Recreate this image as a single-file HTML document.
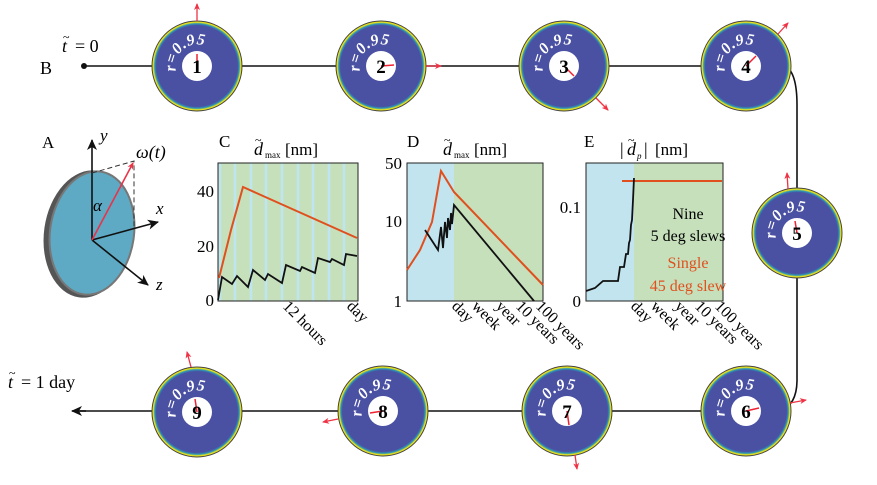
<!DOCTYPE html>
<html><head><meta charset="utf-8"><style>
body{margin:0;background:#fff}
svg{display:block;font-family:"Liberation Serif",serif}
</style></head><body>
<svg width="877" height="485" viewBox="0 0 877 485" xmlns="http://www.w3.org/2000/svg">
<defs>
<radialGradient id="dg" cx="0.5" cy="0.5" r="0.5">
<stop offset="0" stop-color="#4a50a2"/><stop offset="0.9" stop-color="#4a50a2"/>
<stop offset="0.94" stop-color="#2a9ab8"/><stop offset="0.97" stop-color="#e8e020"/><stop offset="1" stop-color="#f2e600"/>
</radialGradient>
<marker id="ra" markerWidth="8" markerHeight="8" refX="6" refY="4" orient="auto" markerUnits="userSpaceOnUse"><path d="M0,1 L7,4 L0,7 L2,4z" fill="#ee3344"/></marker>
<marker id="ka" markerWidth="12" markerHeight="12" refX="10" refY="6" orient="auto" markerUnits="userSpaceOnUse"><path d="M0,1 L11,6 L0,11 L3,6z" fill="#111"/></marker>
<path id="arc" d="M-21,5 A21.5,21.5 0 0 1 21,-5"/>
</defs>
<path d="M84,66 H785 Q797,72 797,105 V380 Q797,405 780,411 H80" fill="none" stroke="#111" stroke-width="1.6"/>
<path d="M86,411 H72" stroke="#111" stroke-width="1.6" marker-end="url(#ka)"/>
<circle cx="84" cy="66" r="3" fill="#111"/>
<text x="40" y="74" font-size="18">B</text>
<text x="62" y="52" font-size="18" font-style="italic">t</text><text x="63" y="41" font-size="12">~</text><text x="75" y="52" font-size="18">= 0</text>
<text x="8" y="388" font-size="18" font-style="italic">t</text><text x="9" y="377" font-size="12">~</text><text x="21" y="388" font-size="18">= 1 day</text>

<g font-weight="bold">
<g transform="translate(197,66)"><circle r="45" fill="url(#dg)" stroke="#444" stroke-width="1"/><circle r="15" fill="#fff"/><line x1="0" y1="0" x2="0" y2="-12" stroke="#e23" stroke-width="1.5"/><text y="7" text-anchor="middle" font-size="19">1</text><text font-size="16" fill="#fff" font-style="italic" letter-spacing="0.5"><textPath href="#arc">r=0.95</textPath></text><line x1="0" y1="-45" x2="0" y2="-62" stroke="#e34" stroke-width="1.3" marker-end="url(#ra)"/></g>
<g transform="translate(381,66)"><circle r="45" fill="url(#dg)" stroke="#444" stroke-width="1"/><circle r="15" fill="#fff"/><line x1="0" y1="0" x2="13" y2="-1" stroke="#e23" stroke-width="1.5"/><text y="7" text-anchor="middle" font-size="19">2</text><text font-size="16" fill="#fff" font-style="italic" letter-spacing="0.5"><textPath href="#arc">r=0.95</textPath></text><line x1="45" y1="0" x2="60" y2="0" stroke="#e34" stroke-width="1.3" marker-end="url(#ra)"/></g>
<g transform="translate(564,66)"><circle r="45" fill="url(#dg)" stroke="#444" stroke-width="1"/><circle r="15" fill="#fff"/><line x1="0" y1="0" x2="10" y2="10" stroke="#e23" stroke-width="1.5"/><text y="7" text-anchor="middle" font-size="19">3</text><text font-size="16" fill="#fff" font-style="italic" letter-spacing="0.5"><textPath href="#arc">r=0.95</textPath></text><line x1="32" y1="32" x2="44" y2="44" stroke="#e34" stroke-width="1.3" marker-end="url(#ra)"/></g>
<g transform="translate(746,66)"><circle r="45" fill="url(#dg)" stroke="#444" stroke-width="1"/><circle r="15" fill="#fff"/><line x1="0" y1="0" x2="10" y2="-10" stroke="#e23" stroke-width="1.5"/><text y="7" text-anchor="middle" font-size="19">4</text><text font-size="16" fill="#fff" font-style="italic" letter-spacing="0.5"><textPath href="#arc">r=0.95</textPath></text><line x1="32" y1="-32" x2="42" y2="-43" stroke="#e34" stroke-width="1.3" marker-end="url(#ra)"/></g>
<g transform="translate(797,233)"><circle r="45" fill="url(#dg)" stroke="#444" stroke-width="1"/><circle r="15" fill="#fff"/><line x1="0" y1="0" x2="-2" y2="-12" stroke="#e23" stroke-width="1.5"/><text y="7" text-anchor="middle" font-size="19">5</text><text font-size="16" fill="#fff" font-style="italic" letter-spacing="0.5"><textPath href="#arc">r=0.95</textPath></text><line x1="-9" y1="-44" x2="-10" y2="-60" stroke="#e34" stroke-width="1.3" marker-end="url(#ra)"/></g>
<g transform="translate(746,411)"><circle r="45" fill="url(#dg)" stroke="#444" stroke-width="1"/><circle r="15" fill="#fff"/><line x1="0" y1="0" x2="13" y2="-3" stroke="#e23" stroke-width="1.5"/><text y="7" text-anchor="middle" font-size="19">6</text><text font-size="16" fill="#fff" font-style="italic" letter-spacing="0.5"><textPath href="#arc">r=0.95</textPath></text><line x1="44" y1="-8" x2="60" y2="-11" stroke="#e34" stroke-width="1.3" marker-end="url(#ra)"/></g>
<g transform="translate(567,411)"><circle r="45" fill="url(#dg)" stroke="#444" stroke-width="1"/><circle r="15" fill="#fff"/><line x1="0" y1="0" x2="2" y2="14" stroke="#e23" stroke-width="1.5"/><text y="7" text-anchor="middle" font-size="19">7</text><text font-size="16" fill="#fff" font-style="italic" letter-spacing="0.5"><textPath href="#arc">r=0.95</textPath></text><line x1="8" y1="44" x2="10" y2="58" stroke="#e34" stroke-width="1.3" marker-end="url(#ra)"/></g>
<g transform="translate(383,411)"><circle r="45" fill="url(#dg)" stroke="#444" stroke-width="1"/><circle r="15" fill="#fff"/><line x1="0" y1="0" x2="-13" y2="2" stroke="#e23" stroke-width="1.5"/><text y="7" text-anchor="middle" font-size="19">8</text><text font-size="16" fill="#fff" font-style="italic" letter-spacing="0.5"><textPath href="#arc">r=0.95</textPath></text><line x1="-45" y1="8" x2="-60" y2="11" stroke="#e34" stroke-width="1.3" marker-end="url(#ra)"/></g>
<g transform="translate(197,412)"><circle r="45" fill="url(#dg)" stroke="#444" stroke-width="1"/><circle r="15" fill="#fff"/><line x1="0" y1="0" x2="-2" y2="-13" stroke="#e23" stroke-width="1.5"/><text y="7" text-anchor="middle" font-size="19">9</text><text font-size="16" fill="#fff" font-style="italic" letter-spacing="0.5"><textPath href="#arc">r=0.95</textPath></text><line x1="-6" y1="-45" x2="-10" y2="-60" stroke="#e34" stroke-width="1.3" marker-end="url(#ra)"/></g>
</g>

<text x="42" y="148" font-size="17">A</text>
<ellipse cx="88" cy="234" rx="44" ry="64" fill="#555" transform="rotate(8 88 234)"/>
<ellipse cx="92" cy="233" rx="42" ry="62" fill="#5ea9c4" stroke="#777" stroke-width="2" transform="rotate(8 92 233)"/>
<path d="M92,240 V140" stroke="#111" stroke-width="1.6" marker-end="url(#ka)"/>
<path d="M92,240 L158,222" stroke="#111" stroke-width="1.6" marker-end="url(#ka)"/>
<path d="M92,240 L148,285" stroke="#111" stroke-width="1.6" marker-end="url(#ka)"/>
<path d="M92,173 L134,161 V226" fill="none" stroke="#333" stroke-dasharray="5,3"/>
<path d="M92,240 L133,163" stroke="#e8334a" stroke-width="1.6" marker-end="url(#ra)"/>
<text x="100" y="141" font-size="17" font-style="italic">y</text>
<text x="136" y="158" font-size="18" font-style="italic">ω(t)</text>
<text x="93" y="211" font-size="17" font-style="italic">α</text>
<text x="156" y="214" font-size="17" font-style="italic">x</text>
<text x="156" y="290" font-size="17" font-style="italic">z</text>

<text x="219" y="147" font-size="17">C</text>
<text x="254" y="155" font-size="18" font-style="italic">d</text><text x="255" y="144" font-size="12">~</text><text x="265" y="158" font-size="9">max</text><text x="285" y="155" font-size="17">[nm]</text>
<rect x="218" y="163" width="140" height="138" fill="#c6e0bc"/>
<g stroke="#bfe6f0" stroke-width="2.5">
<line x1="220" y1="163" x2="220" y2="301"/><line x1="235" y1="163" x2="235" y2="301"/><line x1="251" y1="163" x2="251" y2="301"/><line x1="266" y1="163" x2="266" y2="301"/><line x1="282" y1="163" x2="282" y2="301"/><line x1="298" y1="163" x2="298" y2="301"/><line x1="313" y1="163" x2="313" y2="301"/><line x1="329" y1="163" x2="329" y2="301"/><line x1="344" y1="163" x2="344" y2="301"/>
</g>
<rect x="218" y="163" width="140" height="138" fill="none" stroke="#222" stroke-width="1"/>
<polyline points="219,278 231,230 243,187 357,238" fill="none" stroke="#e0501e" stroke-width="2"/>
<polyline points="218,300 222,277 232,284 237,276 248,287 253,270 265,280 268,274 282,283 286,265 300,271 302,267 315,273 318,258 330,262 332,259 344,265 346,254 357,256" fill="none" stroke="#111" stroke-width="1.8"/>
<g font-size="17" text-anchor="end"><text x="214" y="197">40</text><text x="214" y="252">20</text><text x="214" y="306">0</text></g>
<text font-size="16" transform="translate(282,307) rotate(45)">12 hours</text>
<text font-size="16" transform="translate(346,307) rotate(45)">day</text>

<text x="407" y="147" font-size="17">D</text>
<text x="443" y="155" font-size="18" font-style="italic">d</text><text x="444" y="144" font-size="12">~</text><text x="454" y="158" font-size="9">max</text><text x="474" y="155" font-size="17">[nm]</text>
<rect x="407" y="163" width="47" height="138" fill="#c2e4ef"/>
<rect x="454" y="163" width="89" height="138" fill="#c6e0bc"/>
<rect x="407" y="163" width="136" height="138" fill="none" stroke="#222" stroke-width="1"/>
<polyline points="407,270 420,250 432,222 441,171 454,192 543,285" fill="none" stroke="#e0501e" stroke-width="2"/>
<polyline points="425,230 438,250 441,227 443,248 445,222 447,238 448,218 450,230 451,213 452,224 454,205 534,301" fill="none" stroke="#111" stroke-width="1.8"/>
<g font-size="17" text-anchor="end"><text x="402" y="169">50</text><text x="402" y="227">10</text><text x="402" y="307">1</text></g>
<g font-size="16"><text transform="translate(451,307) rotate(45)">day</text><text transform="translate(471,307) rotate(45)">week</text><text transform="translate(495,307) rotate(45)">year</text><text transform="translate(515,307) rotate(45)">10 years</text><text transform="translate(535,307) rotate(45)">100 years</text></g>

<text x="584" y="147" font-size="17">E</text>
<text x="620" y="155" font-size="18">|</text><text x="627" y="155" font-size="18" font-style="italic">d</text><text x="628" y="144" font-size="12">~</text><text x="637" y="159" font-size="9" font-style="italic">p</text><text x="644" y="155" font-size="18">|</text><text x="655" y="155" font-size="17">[nm]</text>
<rect x="586" y="163" width="48" height="138" fill="#c2e4ef"/>
<rect x="634" y="163" width="89" height="138" fill="#c6e0bc"/>
<rect x="586" y="163" width="137" height="138" fill="none" stroke="#222" stroke-width="1"/>
<line x1="622" y1="181" x2="722" y2="181" stroke="#e0501e" stroke-width="2"/>
<polyline points="586,291 595,288 603,281 618,281 620,267 624,267 626,254 628,254 629,243 630,240 631,225 632,220 633,200 634,178" fill="none" stroke="#111" stroke-width="1.8"/>
<g font-size="17" text-anchor="end"><text x="581" y="213">0.1</text><text x="581" y="307">0</text></g>
<g font-size="16" text-anchor="middle"><text x="688" y="219">Nine</text><text x="688" y="241">5 deg slews</text><text x="688" y="268" fill="#e0501e">Single</text><text x="688" y="291" fill="#e0501e">45 deg slew</text></g>
<g font-size="16"><text transform="translate(630,307) rotate(45)">day</text><text transform="translate(650,307) rotate(45)">week</text><text transform="translate(674,307) rotate(45)">year</text><text transform="translate(694,307) rotate(45)">10 years</text><text transform="translate(714,307) rotate(45)">100 years</text></g>
</svg>
</body></html>
